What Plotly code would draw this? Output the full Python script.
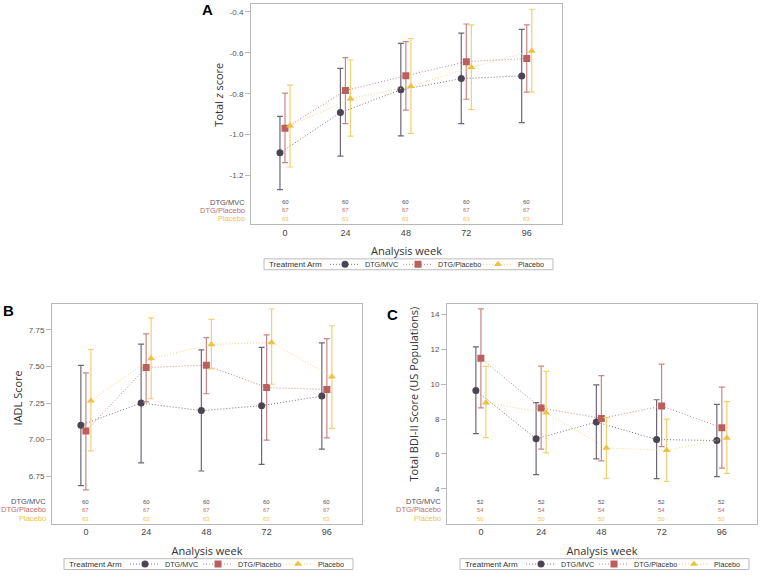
import plotly.graph_objects as go

weeks = [0, 24, 48, 72, 96]
arms = ["DTG/MVC", "DTG/Placebo", "Placebo"]
arm_offsets = [-2, 0, 2]

# Panel A: Total z score
a_mvc_mean = [-1.089, -0.892, -0.781, -0.726, -0.713]
a_mvc_lo = [-1.269, -1.105, -1.006, -0.946, -0.941]
a_mvc_hi = [-0.911, -0.676, -0.554, -0.504, -0.485]
a_dtg_mean = [-0.969, -0.784, -0.712, -0.643, -0.628]
a_dtg_lo = [-1.137, -0.946, -0.880, -0.827, -0.792]
a_dtg_hi = [-0.797, -0.623, -0.545, -0.459, -0.463]
a_pbo_mean = [-0.957, -0.824, -0.763, -0.671, -0.591]
a_pbo_lo = [-1.158, -1.007, -0.994, -0.877, -0.792]
a_pbo_hi = [-0.758, -0.635, -0.530, -0.463, -0.387]
a_counts = [60, 67, 63]

# Panel B: IADL score
b_mvc_mean = [7.098, 7.250, 7.198, 7.232, 7.297]
b_mvc_lo = [6.687, 6.842, 6.786, 6.831, 6.936]
b_mvc_hi = [7.506, 7.651, 7.613, 7.629, 7.660]
b_dtg_mean = [7.059, 7.492, 7.508, 7.355, 7.342]
b_dtg_lo = [6.658, 7.257, 7.313, 6.997, 7.012]
b_dtg_hi = [7.456, 7.721, 7.696, 7.714, 7.689]
b_pbo_mean = [7.266, 7.553, 7.649, 7.663, 7.429]
b_pbo_lo = [6.923, 7.279, 7.483, 7.378, 7.077]
b_pbo_hi = [7.615, 7.831, 7.820, 7.891, 7.777]
b_counts = [60, 67, 63]

# Panel C: Total BDI-II score
c_mvc_mean = [9.64, 6.87, 7.83, 6.83, 6.77]
c_mvc_lo = [7.17, 4.81, 5.72, 4.58, 4.70]
c_mvc_hi = [12.15, 8.94, 9.96, 9.11, 8.85]
c_dtg_mean = [11.49, 8.64, 8.04, 8.75, 7.51]
c_dtg_lo = [8.64, 6.28, 5.60, 6.42, 5.19]
c_dtg_hi = [14.32, 11.04, 10.49, 11.15, 9.83]
c_pbo_mean = [8.94, 8.36, 6.34, 6.21, 6.91]
c_pbo_lo = [6.94, 6.06, 4.60, 4.42, 4.89]
c_pbo_hi = [11.02, 10.74, 8.08, 8.00, 9.00]
c_counts = [52, 54, 50]

marker_colors = ["#4b4453", "#b9605f", "#f0c040"]
err_colors = ["#6e6676", "#c98686", "#f3cf70"]
line_colors = ["#7a7382", "#c98686", "#f3d57f"]
count_colors = ["#55505c", "#c0706f", "#f0c14e"]
symbols = ["circle", "square", "triangle-up"]
legend_widths = [28, 35, None]

W, H = 760, 579
def px(x):
    return x / W
def py(y):
    return 1 - y / H

panels = [
    dict(key="", means=[a_mvc_mean, a_dtg_mean, a_pbo_mean], los=[a_mvc_lo, a_dtg_lo, a_pbo_lo],
         his=[a_mvc_hi, a_dtg_hi, a_pbo_hi], counts=a_counts,
         xdom=[px(251), px(562)], ydom=[py(227), py(4)], yrange=[-1.436, -0.361],
         tickvals=[-1.2, -1.0, -0.8, -0.6, -0.4], ticktext=["-1.2", "-1.0", "-0.8", "-0.6", "-0.4"],
         count_y=[-1.330, -1.369, -1.412], ytitle="Total <i>z</i> score", ytitle_pos=(219, 96),
         legend="legend", letter="A", letter_pos=(207, 10), legend_box=(264, 268)),
    dict(key="2", means=[b_mvc_mean, b_dtg_mean, b_pbo_mean], los=[b_mvc_lo, b_dtg_lo, b_pbo_lo],
         his=[b_mvc_hi, b_dtg_hi, b_pbo_hi], counts=b_counts,
         xdom=[px(52), px(362)], ydom=[py(531), py(308)], yrange=[6.427, 7.927],
         tickvals=[6.75, 7.0, 7.25, 7.5, 7.75], ticktext=["6.75", "7.00", "7.25", "7.50", "7.75"],
         count_y=[6.575, 6.521, 6.461], ytitle="IADL Score", ytitle_pos=(17, 404),
         legend="legend2", letter="B", letter_pos=(8, 315), legend_box=(64, 572)),
    dict(key="3", means=[c_mvc_mean, c_dtg_mean, c_pbo_mean], los=[c_mvc_lo, c_dtg_lo, c_pbo_lo],
         his=[c_mvc_hi, c_dtg_hi, c_pbo_hi], counts=c_counts,
         xdom=[px(447), px(757)], ydom=[py(531), py(308)], yrange=[2.0, 14.62],
         tickvals=[4, 6, 8, 10, 12, 14], ticktext=["4", "6", "8", "10", "12", "14"],
         count_y=[3.25, 2.80, 2.29], ytitle="Total BDI-II Score (US Populations)", ytitle_pos=(413, 400),
         legend="legend3", letter="C", letter_pos=(392, 319), legend_box=(460, 572)),
]

fig = go.Figure()
annotations = []
shapes = []
legends = {}
base_font = "Liberation Sans, Arial, sans-serif"
title_font = "Open Sans, sans-serif"

for p in panels:
    k = p["key"]
    xa = "x" + k
    ya = "y" + k
    for i, arm in enumerate(arms):
        m = p["means"][i]
        lo = p["los"][i]
        hi = p["his"][i]
        tr = go.Scatter(
            x=[w + arm_offsets[i] for w in weeks], y=m,
            mode="lines+markers", name=arm,
            xaxis=xa, yaxis=ya, legend=p["legend"],
            line=dict(color=line_colors[i], width=1, dash="1px,2px"),
            marker=dict(symbol=symbols[i], size=7, color=marker_colors[i]),
            error_y=dict(type="data", symmetric=False,
                         array=[h - v for h, v in zip(hi, m)],
                         arrayminus=[v - l for v, l in zip(m, lo)],
                         color=err_colors[i], thickness=1.2, width=3),
        )
        if legend_widths[i]:
            tr.legendwidth = legend_widths[i]
        fig.add_trace(tr)
        # count labels
        annotations.append(dict(
            x=0, xref=xa + " domain", y=p["count_y"][i], yref=ya,
            text=arm, showarrow=False, xanchor="right", xshift=-4,
            font=dict(size=7.5, color=count_colors[i], family=base_font)))
        for w in weeks:
            annotations.append(dict(
                x=w, xref=xa, y=p["count_y"][i], yref=ya,
                text=str(p["counts"][i]), showarrow=False,
                font=dict(size=6, color=count_colors[i], family=base_font)))
    lx, ly = p["letter_pos"]
    annotations.append(dict(
        x=px(lx), y=py(ly), xref="paper", yref="paper", text="<b>" + p["letter"] + "</b>",
        showarrow=False, xanchor="center", yanchor="middle",
        font=dict(size=15, color="#000000", family=base_font)))
    tx, ty = p["ytitle_pos"]
    annotations.append(dict(
        x=px(tx), y=py(ty), xref="paper", yref="paper", text=p["ytitle"],
        showarrow=False, xanchor="center", yanchor="middle", textangle=-90,
        font=dict(size=11, color="#333333", family=title_font)))

    # legend frame + title
    bx, by = p["legend_box"]
    shapes.append(dict(type="rect", xref="paper", yref="paper",
                       x0=px(bx), x1=px(bx + 289), y0=py(by + 5.5), y1=py(by - 5.5),
                       line=dict(color="#bbbbbb", width=1), fillcolor="rgba(0,0,0,0)"))
    annotations.append(dict(
        x=px(bx + 3), y=py(by), xref="paper", yref="paper", text="Treatment Arm",
        showarrow=False, xanchor="left", yanchor="middle",
        font=dict(size=8, color="#333333", family=base_font)))
    legends[p["legend"]] = dict(
        x=px(bx + 61), y=py(by), xanchor="left", yanchor="middle",
        orientation="h", borderwidth=0, bgcolor="rgba(0,0,0,0)",
        font=dict(size=7.2, color="#333333", family=base_font),
        itemwidth=30, tracegroupgap=0)

    axis_common = dict(showline=True, mirror=True, linecolor="#b8b8b8", linewidth=1,
                       showgrid=False, zeroline=False)
    fig.update_layout({
        "xaxis" + k: dict(domain=p["xdom"], range=[-13.5, 110], anchor=ya,
                          tickvals=weeks, ticks="", tickfont=dict(size=9, color="#444444", family=base_font),
                          title=dict(text="Analysis week", standoff=10,
                                     font=dict(size=11, color="#333333", family=title_font)),
                          **axis_common),
        "yaxis" + k: dict(domain=p["ydom"], range=p["yrange"], anchor=xa,
                          tickvals=p["tickvals"], ticktext=p["ticktext"],
                          ticks="outside", ticklen=5, tickcolor="#b8b8b8",
                          tickfont=dict(size=8, color="#555555", family=base_font),
                          **axis_common),
    })

fig.update_layout(
    width=W, height=H,
    margin=dict(l=0, r=0, t=0, b=0),
    paper_bgcolor="#ffffff", plot_bgcolor="#ffffff",
    annotations=annotations,
    shapes=shapes,
    **legends,
)

fig.write_html("out.html", config={"displayModeBar": False},
               post_script="document.body.style.margin='0px';")
